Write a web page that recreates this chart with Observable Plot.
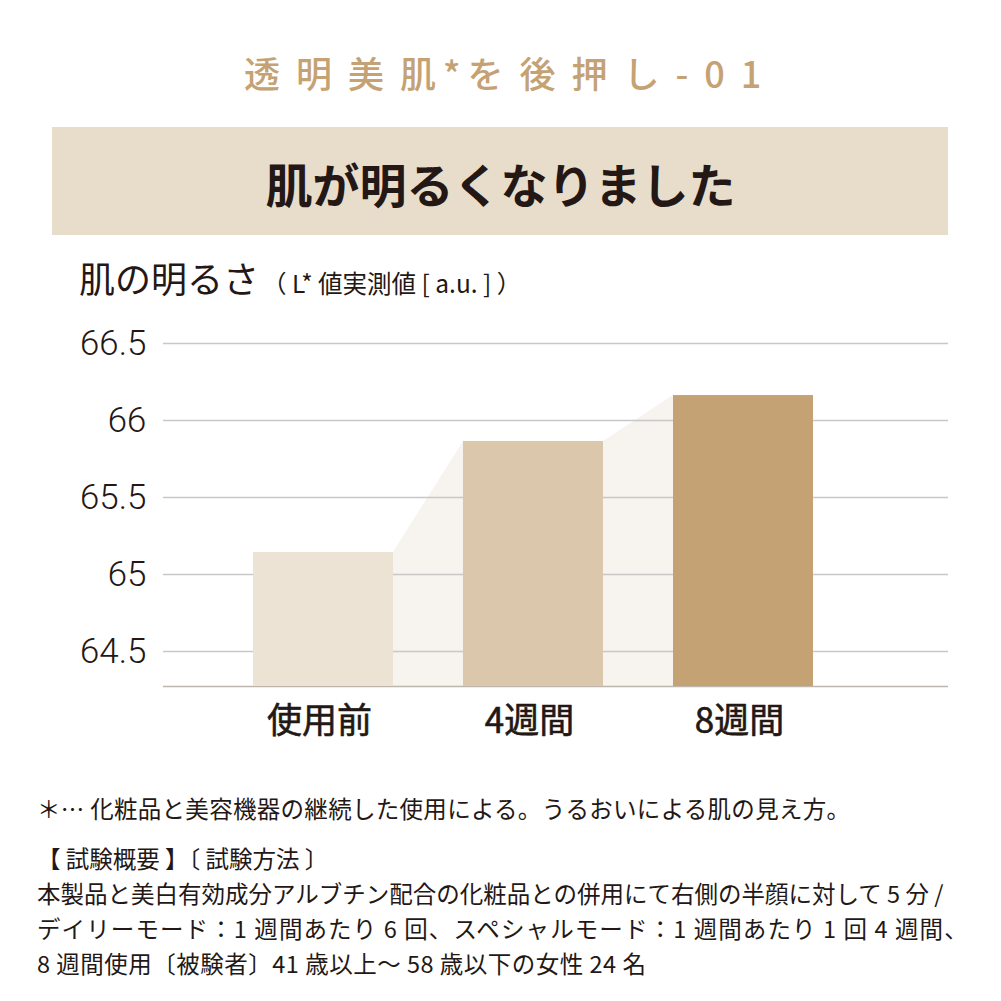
<!DOCTYPE html>
<html lang="ja">
<head>
<meta charset="utf-8">
<script src="https://cdn.jsdelivr.net/npm/d3@7"></script>
<script src="https://cdn.jsdelivr.net/npm/@observablehq/plot@0.6"></script>
<style>
  html, body { margin: 0; padding: 0; background: #fff; }
  body { width: 1001px; height: 1001px; position: relative; overflow: hidden;
         font-family: "Noto Sans CJK JP", "Noto Sans", sans-serif; color: #231815; }
  .abs { position: absolute; white-space: nowrap; }
  #kicker { left: 244px; top: 46px; color: #c4a274;
            font-size: 36px; font-weight: 500; letter-spacing: 16px; line-height: 52px; }
  #kicker .tight { letter-spacing: 7px; }
  #band { left: 52px; top: 127px; width: 896px; height: 108px; background: #e8ddcb; }
  #headline { left: 0; width: 1001px; top: 153px; text-align: center; font-size: 47px; font-weight: 700;
              line-height: 60px; color: #231815; }
  #ylabel { left: 79px; top: 253px; line-height: 48px; color: #231815; }
  #ylabel .big { font-size: 36px; }
  #ylabel .small { font-size: 24.5px; margin-left: 3px; }
  #chart { left: 0; top: 290px; }
  .note { left: 37px; font-size: 23.5px; line-height: 30px; color: #231815; }
</style>
</head>
<body>
<div id="kicker" class="abs">透明美<span class="tight">肌*</span>を後押し-01</div>
<div id="band" class="abs"></div>
<div id="headline" class="abs">肌が明るくなりました</div>
<div id="ylabel" class="abs"><span class="big">肌の明るさ</span><span class="small">（ L* 値実測値 [ a.u. ] ）</span></div>
<div id="chart" class="abs"></div>
<div class="abs note" style="top:793px; letter-spacing:0.3px">＊… 化粧品と美容機器の継続した使用による。うるおいによる肌の見え方。</div>
<div class="abs note" style="top:843px">【 試験概要 】〔 試験方法 〕</div>
<div class="abs note" style="top:878px">本製品と美白有効成分アルブチン配合の化粧品との併用にて右側の半顔に対して 5 分 /</div>
<div class="abs note" style="top:913px; letter-spacing:1.1px">デイリーモード：1 週間あたり 6 回、スペシャルモード：1 週間あたり 1 回 4 週間、</div>
<div class="abs note" style="top:948px; letter-spacing:0.5px">8 週間使用〔被験者〕41 歳以上～ 58 歳以下の女性 24 名</div>
<script>
const categories = ["使用前", "4週間", "8週間"];
const values = [65.143, 65.864, 66.162];
const barColors = ["#ede3d5", "#dbc7ab", "#c4a274"];
const yTicks = [64.5, 65, 65.5, 66, 66.5];
const yTickLabels = ["64.5", "65", "65.5", "66", "66.5"];

const yMin = 64.273, yMax = 66.7;
const half = 1 / 3;
const bars = categories.map((c, i) => ({ i, c, v: values[i], fill: barColors[i] }));
// connector band between consecutive bar tops
const connector = [];
for (let i = 0; i < values.length - 1; i++) {
  connector.push({ x: i + half, y: values[i] });
  connector.push({ x: i + 1 - half, y: values[i + 1] });
}

const chart = Plot.plot({
  width: 1001,
  height: 456,
  marginLeft: 163,
  marginRight: 53,
  marginTop: 22.2,
  marginBottom: 60,
  style: { fontFamily: '"Noto Sans CJK JP", "Noto Sans", sans-serif', color: "#231815", background: "transparent" },
  x: { type: "linear", domain: [-0.7619, 2.9762], axis: null },
  y: { domain: [yMin, yMax], axis: null },
  marks: [
    Plot.areaY(connector, { x: "x", y1: yMin, y2: "y", fill: "#f7f3ee" }),
    Plot.ruleY(yTicks, { stroke: "#c8c8c8", strokeWidth: 1.5 }),
    Plot.ruleY([yMin], { stroke: "#bdb6ad", strokeWidth: 1.5 }),
    Plot.rect(bars, { x1: d => d.i - half, x2: d => d.i + half, y1: yMin, y2: "v", fill: "fill" }),
    Plot.axisY({ ticks: yTicks, tickSize: 0, tickPadding: 17, fontSize: 35, fill: "#231815",
                 fontFamily: "Roboto, 'Liberation Sans', sans-serif", fontWeight: 300,
                 tickFormat: d => yTickLabels[yTicks.indexOf(d)] }),
    Plot.text(bars, { x: "i", y: yMin, text: "c", dy: 35, dx: -4, lineAnchor: "middle", fontSize: 35,
                      fontWeight: 400, fill: "#231815", stroke: "#231815", strokeWidth: 0.6 })
  ]
});
document.getElementById("chart").appendChild(chart);
</script>
</body>
</html>
